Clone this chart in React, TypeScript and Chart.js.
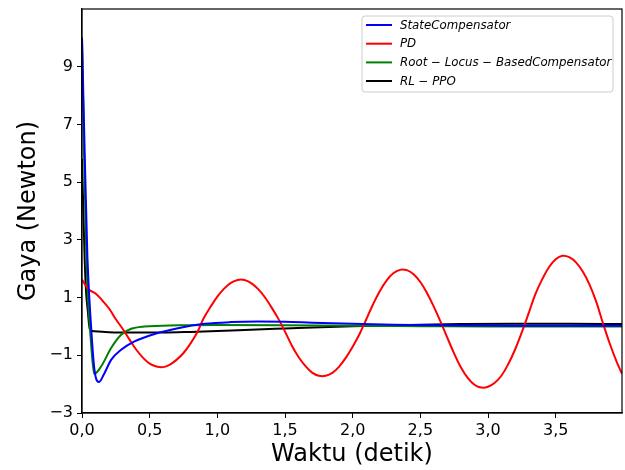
import React, { useEffect, useRef } from "react";
import { Chart, registerables } from "chart.js";

Chart.register(...registerables);

// ---- Data ----
const stateT = [0, 0.02, 0.04, 0.067, 0.092, 0.124, 0.166, 0.215, 0.289, 0.388, 0.536, 0.709, 0.906, 1.1, 1.3, 1.5, 1.7, 2.0, 2.3, 2.6, 3.0, 3.5, 3.99];
const stateY = [10, 6, 2.4, 0.0, -1.5, -1.93, -1.62, -1.16, -0.81, -0.52, -0.26, -0.06, 0.09, 0.15, 0.17, 0.16, 0.13, 0.09, 0.06, 0.04, 0.03, 0.02, 0.02];

const pdT = [
  0, 0.05, 0.1, 0.15, 0.2, 0.25, 0.3, 0.35, 0.4, 0.45, 0.5, 0.55, 0.6, 0.65, 0.7, 0.75, 0.8, 0.85,
  0.9, 0.95, 1.0, 1.05, 1.1, 1.15, 1.2, 1.25, 1.3, 1.35, 1.4, 1.45, 1.5, 1.55, 1.6, 1.65, 1.7, 1.75,
  1.8, 1.85, 1.9, 1.95, 2.0, 2.05, 2.1, 2.15, 2.2, 2.25, 2.3, 2.35, 2.4, 2.45, 2.5, 2.55, 2.6, 2.65,
  2.7, 2.75, 2.8, 2.85, 2.9, 2.95, 3.0, 3.05, 3.1, 3.15, 3.2, 3.25, 3.3, 3.35, 3.4, 3.45, 3.5, 3.55,
  3.6, 3.65, 3.7, 3.75, 3.8, 3.85, 3.9, 3.95, 3.99,
];
const pdY = [
  1.62, 1.28, 1.14, 0.9, 0.62, 0.25, -0.08, -0.45, -0.8, -1.08, -1.29, -1.39, -1.41, -1.32, -1.15, -0.92, -0.6, -0.22,
  0.29, 0.68, 1.03, 1.31, 1.51, 1.61, 1.61, 1.5, 1.3, 1.02, 0.66, 0.27, -0.18, -0.66, -1.06, -1.37, -1.6, -1.71,
  -1.71, -1.61, -1.39, -1.08, -0.7, -0.27, 0.24, 0.76, 1.22, 1.59, 1.84, 1.96, 1.95, 1.81, 1.54, 1.15, 0.68, 0.16,
  -0.4, -0.94, -1.42, -1.78, -2.02, -2.12, -2.09, -1.95, -1.7, -1.3, -0.8, -0.2, 0.45, 1.12, 1.63, 2.05, 2.33, 2.45,
  2.4, 2.22, 1.9, 1.45, 0.85, 0.1, -0.6, -1.22, -1.64,
];

const rootT = [0, 0.015, 0.03, 0.042, 0.067, 0.09, 0.141, 0.215, 0.289, 0.363, 0.462, 0.71, 1.0, 1.5, 2.0, 2.5, 3.0, 3.5, 3.99];
const rootY = [10, 6, 2.8, 1.2, -0.6, -1.65, -1.39, -0.75, -0.29, -0.08, 0.0, 0.04, 0.05, 0.04, 0.02, 0.01, 0.0, 0.0, 0.0];

const rlT = [0, 0.01, 0.02, 0.03, 0.042, 0.058, 0.09, 0.2, 0.4, 0.6, 0.8, 1.0, 1.2, 1.5, 2.0, 2.5, 2.8, 3.2, 3.6, 3.99];
const rlY = [5.8, 4.0, 2.3, 1.2, 0.58, -0.1, -0.17, -0.2, -0.21, -0.21, -0.19, -0.16, -0.12, -0.07, 0.01, 0.06, 0.08, 0.09, 0.09, 0.08];

const seriesLabels = ["StateCompensator", "PD", "Root − Locus − BasedCompensator", "RL − PPO"];
const seriesColors = ["#0000ff", "#ff0000", "#008000", "#000000"];

const xTicks = [0, 0.5, 1.0, 1.5, 2.0, 2.5, 3.0, 3.5];
const yTicks = [-3, -1, 1, 3, 5, 7, 9];

const toPts = (t: number[], y: number[]) => t.map((v, i) => ({ x: v, y: y[i] }));

const framePlugin = {
  id: "frameAndLegend",
  afterDraw(chart: any) {
    const ctx = chart.ctx;
    const a = chart.chartArea;
    ctx.save();
    ctx.strokeStyle = "#000";
    ctx.lineWidth = 1.2;
    ctx.strokeRect(a.left, a.top, a.right - a.left, a.bottom - a.top);

    const bx = 362, by = 16, bw = 251, bh = 76;
    ctx.fillStyle = "rgba(255,255,255,0.8)";
    ctx.strokeStyle = "#cccccc";
    ctx.lineWidth = 1;
    ctx.beginPath();
    const r = 3;
    ctx.moveTo(bx + r, by);
    ctx.lineTo(bx + bw - r, by);
    ctx.arcTo(bx + bw, by, bx + bw, by + r, r);
    ctx.lineTo(bx + bw, by + bh - r);
    ctx.arcTo(bx + bw, by + bh, bx + bw - r, by + bh, r);
    ctx.lineTo(bx + r, by + bh);
    ctx.arcTo(bx, by + bh, bx, by + bh - r, r);
    ctx.lineTo(bx, by + r);
    ctx.arcTo(bx, by, bx + r, by, r);
    ctx.closePath();
    ctx.fill();
    ctx.stroke();

    const rows = [25, 43.7, 62.4, 81];
    chart.data.datasets.forEach((ds: any, i: number) => {
      const y = rows[i];
      ctx.strokeStyle = ds.borderColor;
      ctx.lineWidth = 2;
      ctx.beginPath();
      ctx.moveTo(366, y);
      ctx.lineTo(392, y);
      ctx.stroke();
      ctx.fillStyle = "#000";
      ctx.font = 'italic 11.8px "DejaVu Sans"';
      ctx.textBaseline = "middle";
      ctx.textAlign = "left";
      ctx.fillText(ds.label, 400, y + 0.5);
    });
    ctx.restore();
  },
};

export default function App() {
  const ref = useRef<HTMLCanvasElement | null>(null);
  useEffect(() => {
    if (!ref.current) return;
    const font = { family: '"DejaVu Sans"', size: 16 };
    const chart = new Chart(ref.current, {
      type: "scatter",
      data: {
        datasets: [
          { label: seriesLabels[0], data: toPts(stateT, stateY) },
          { label: seriesLabels[1], data: toPts(pdT, pdY) },
          { label: seriesLabels[2], data: toPts(rootT, rootY) },
          { label: seriesLabels[3], data: toPts(rlT, rlY) },
        ].map((d, i) => ({
          ...d,
          showLine: true,
          borderColor: seriesColors[i],
          backgroundColor: seriesColors[i],
          borderWidth: 2,
          pointRadius: 0,
          ...(i === 1
            ? { tension: 0.4, cubicInterpolationMode: "default" as const }
            : { cubicInterpolationMode: "monotone" as const }),
        })),
      },
      options: {
        animation: false,
        responsive: false,
        maintainAspectRatio: false,
        layout: { padding: { top: 9, right: 3, left: 0, bottom: 0 } },
        plugins: { legend: { display: false }, tooltip: { enabled: false } },
        scales: {
          x: {
            type: "linear",
            min: 0,
            max: 3.99,
            afterBuildTicks: (axis: any) => {
              axis.ticks = xTicks.map((v) => ({ value: v }));
            },
            afterFit: (scale: any) => {
              scale.height = 57;
              scale.paddingLeft = 0;
              scale.paddingRight = 0;
            },
            grid: { drawOnChartArea: false, drawTicks: true, tickLength: 5, color: "#000" },
            border: { display: true, color: "#000", width: 1.2 },
            ticks: {
              color: "#000",
              font,
              padding: 3,
              maxRotation: 0,
              autoSkip: false,
              callback: (v: any) => Number(v).toFixed(1).replace(".", ","),
            },
            title: {
              display: true,
              text: "Waktu (detik)",
              color: "#000",
              font: { family: '"DejaVu Sans"', size: 24 },
              padding: { top: 0, bottom: 1 },
            },
          },
          y: {
            type: "linear",
            min: -3,
            max: 11,
            afterBuildTicks: (axis: any) => {
              axis.ticks = yTicks.map((v) => ({ value: v }));
            },
            afterFit: (scale: any) => {
              scale.width = 82;
              scale.paddingTop = 0;
              scale.paddingBottom = 0;
            },
            grid: { drawOnChartArea: false, drawTicks: true, tickLength: 5, color: "#000" },
            border: { display: true, color: "#000", width: 1.2 },
            ticks: {
              color: "#000",
              font,
              padding: 4,
              autoSkip: false,
              callback: (v: any) => (Number(v) < 0 ? "−" + Math.abs(Number(v)) : String(v)),
            },
            title: {
              display: true,
              text: "Gaya (Newton)",
              color: "#000",
              font: { family: '"DejaVu Sans"', size: 24 },
              padding: { top: 14, bottom: 0 },
            },
          },
        },
      },
      plugins: [framePlugin],
    });
    return () => chart.destroy();
  }, []);
  return (
    <div style={{ position: "fixed", left: 0, top: 0, width: 625, height: 470, background: "#fff" }}>
      <canvas ref={ref} width={625} height={470} style={{ width: 625, height: 470 }} />
    </div>
  );
}
